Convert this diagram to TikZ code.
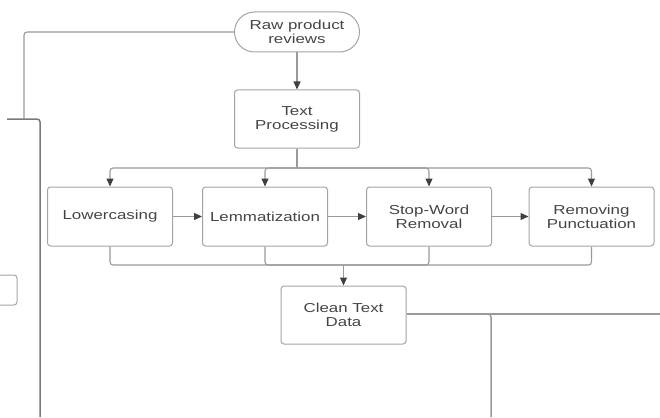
\documentclass[tikz,border=0pt]{standalone}
\usepackage{fontspec}
\setmainfont[FakeStretch=1.3]{Liberation Sans}
\usetikzlibrary{arrows.meta,positioning}
\definecolor{boxline}{HTML}{A3A3A3}
\definecolor{wire}{HTML}{9A9A9A}
\definecolor{darkwire}{HTML}{7A7A7A}
\definecolor{labeltext}{HTML}{444444}
\begin{document}
\begin{tikzpicture}[x=1pt,y=-1pt,
	stepbox/.style={draw=boxline,line width=1pt,rounded corners=3pt,
		minimum width=125pt,minimum height=59pt,align=center,
		text=labeltext,font=\fontsize{13}{14}\selectfont},
	startbox/.style={stepbox,rounded corners=20pt,minimum height=40pt},
	wireline/.style={draw=wire,line width=1.1pt,rounded corners=3pt},
	darkline/.style={draw=darkwire,line width=1.5pt,rounded corners=3pt},
	arrow/.style={wireline,-{Triangle[length=8pt,width=7pt,color=black!75]}}]
	\useasboundingbox (0,0) rectangle (660,417);

	% Boxes
	\node[startbox] (raw) at (297,32) {Raw product\\reviews};
	\node[stepbox,minimum height=58pt] (proc) at (297,119) {Text\\Processing};
	\node[stepbox] (lower) at (110,216.5) {Lowercasing};
	\node[stepbox] (lemma) at (265,216.5) {Lemmatization};
	\node[stepbox] (stop) at (429,216.5) {Stop-Word\\Removal};
	\node[stepbox] (punct) at (591.5,216.5) {Removing\\Punctuation};
	\node[stepbox,minimum height=58pt] (clean) at (343.5,315) {Clean Text\\Data};

	% Split and merge points
	\coordinate (split) at (297,168);
	\coordinate (merge) at (343.5,265);

	% Input to text processing
	\draw[arrow] (raw) -- (proc);

	% Fan out to the four steps
	\draw[wireline] (proc) -- (split);
	\foreach \s in {lower,lemma,stop,punct}
		\draw[arrow] (split) -| (\s.north);

	% Chain of steps
	\draw[arrow] (lower) -- (lemma);
	\draw[arrow] (lemma) -- (stop);
	\draw[arrow] (stop) -- (punct);

	% Merge into clean data
	\foreach \s in {lower,lemma,stop,punct}
		\draw[wireline] (\s.south) |- (merge);
	\draw[arrow] (merge) -- (clean);

	% Lines running off the left side
	\coordinate (leftjoin) at (24,119);
	\coordinate (leftstub) at (7,119);
	\coordinate (leftdown) at (40,417);
	\draw[wireline] (raw.west) -| (leftjoin);
	\draw[darkline] (leftstub) -| (leftdown);
	\draw[boxline,line width=1pt,rounded corners=3pt] (-20,275) rectangle (17,305);

	% Lines running off the right side
	\coordinate (rightend) at (660,314);
	\coordinate (rightdown) at (491,417);
	\draw[wireline] (clean.east |- rightend) -- (rightend);
	\draw[darkline,draw=wire] (clean.east |- rightend) -| (rightdown);
\end{tikzpicture}
\end{document}
